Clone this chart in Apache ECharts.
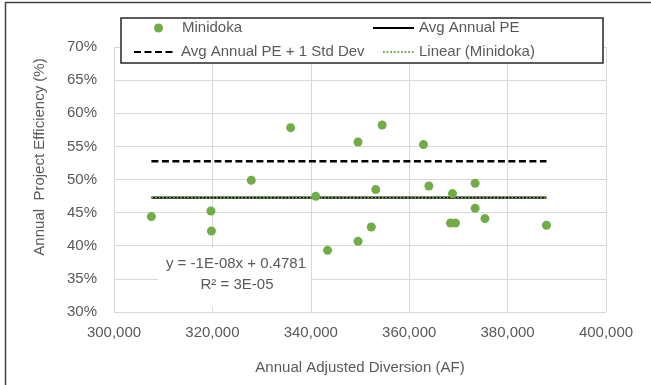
<!DOCTYPE html>
<html>
<head>
<meta charset="utf-8">
<script src="https://cdn.jsdelivr.net/npm/echarts@6/dist/echarts.min.js"></script>
<style>
  html, body { margin: 0; padding: 0; background: #ffffff; }
  #chart { width: 651px; height: 385px; }
</style>
</head>
<body>
<div id="chart"></div>
<script>
// ---- Data ----
const diversionAF = [307600, 319700, 319800, 327900, 335900, 341000, 343400, 349600, 354500, 353200, 352300, 349600, 362900, 364000, 368800, 368400, 369400, 373400, 373400, 375400, 387900];
const efficiency  = [0.4440, 0.4525, 0.4223, 0.4988, 0.5783, 0.4746, 0.3931, 0.5566, 0.5823, 0.4848, 0.4283, 0.4067, 0.5527, 0.4902, 0.4787, 0.4343, 0.4343, 0.4943, 0.4565, 0.4410, 0.4309];

const refLineX   = [307600, 387900];
const avgPE      = [0.4727, 0.4727];
const avgPlusStd = [0.5275, 0.5275];
const trendY     = [0.4729, 0.4726];

const xTicks = { min: 300000, max: 400000, interval: 20000 };
const yTicks = { min: 0.30, max: 0.70, interval: 0.05 };

const equationText = 'y = -1E-08x + 0.4781';
const r2Text = 'R² = 3E-05';

const seriesNames = ['Minidoka', 'Avg Annual PE', 'Avg Annual PE + 1 Std Dev', 'Linear (Minidoka)'];

// ---- Build ----
const FONT = 'Liberation Sans, Arial, sans-serif';
const TXT = '#595959';
const GREEN = '#70ad47';

const pairs = (xs, ys) => xs.map((x, i) => [x, ys[i]]);

const chart = echarts.init(document.getElementById('chart'), null, { renderer: 'canvas' });

const legendBase = {
  orient: 'horizontal',
  padding: 0,
  itemHeight: 14,
  selectedMode: false,
  textStyle: { color: TXT, fontFamily: FONT, fontSize: 15, lineHeight: 16 }
};
const hiddenSymbol = { opacity: 0, color: 'rgba(0,0,0,0)', borderWidth: 0 };

const option = {
  backgroundColor: '#ffffff',
  animation: false,
  grid: { left: 114, right: 45, top: 47, bottom: 73, containLabel: false },
  xAxis: {
    type: 'value',
    min: xTicks.min, max: xTicks.max, interval: xTicks.interval,
    axisLine: { show: false },
    axisTick: { show: false },
    splitLine: { show: true, lineStyle: { color: '#d9d9d9', width: 1 } },
    axisLabel: {
      color: TXT, fontFamily: FONT, fontSize: 15, margin: 13,
      showMinLabel: true, showMaxLabel: true,
      formatter: v => Math.round(v).toLocaleString('en-US')
    },
    name: 'Annual Adjusted Diversion (AF)',
    nameLocation: 'middle',
    nameGap: 48,
    nameTextStyle: { color: TXT, fontFamily: FONT, fontSize: 15 }
  },
  yAxis: {
    type: 'value',
    min: yTicks.min, max: yTicks.max, interval: yTicks.interval,
    axisLine: { show: false },
    axisTick: { show: false },
    splitLine: { show: true, lineStyle: { color: '#d9d9d9', width: 1 } },
    axisLabel: {
      color: TXT, fontFamily: FONT, fontSize: 15, margin: 17,
      showMinLabel: true, showMaxLabel: true,
      formatter: v => Math.round(v * 100) + '%'
    }
  },
  legend: [
    Object.assign({}, legendBase, {
      data: [{ name: seriesNames[0], icon: 'circle', itemStyle: { color: GREEN, opacity: 1 } }],
      left: 154, top: 20, itemWidth: 37, itemHeight: 9
    }),
    Object.assign({}, legendBase, {
      data: [{ name: seriesNames[1], itemStyle: hiddenSymbol }],
      itemStyle: hiddenSymbol,
      left: 372, top: 20, itemWidth: 41
    }),
    Object.assign({}, legendBase, {
      data: [{ name: seriesNames[2], itemStyle: hiddenSymbol }],
      itemStyle: hiddenSymbol,
      left: 133, top: 44, itemWidth: 42
    }),
    Object.assign({}, legendBase, {
      data: [{ name: seriesNames[3], itemStyle: hiddenSymbol }],
      itemStyle: hiddenSymbol,
      left: 382, top: 44, itemWidth: 31
    })
  ],
  graphic: [
    // outer chart border (top and left visible)
    { type: 'line', z: 10, shape: { x1: 5, y1: 2.5, x2: 651, y2: 2.5 }, style: { stroke: '#404040', lineWidth: 1.5 } },
    { type: 'line', z: 10, shape: { x1: 5.5, y1: 2, x2: 5.5, y2: 385 }, style: { stroke: '#404040', lineWidth: 1.5 } },
    // legend box
    { type: 'rect', z: 3, shape: { x: 121, y: 18, width: 482, height: 45 }, style: { fill: '#ffffff', stroke: '#262626', lineWidth: 1.5 } },
    // trendline equation label
    { type: 'rect', z: 3, shape: { x: 158, y: 248, width: 153, height: 59 }, style: { fill: '#ffffff', stroke: null } },
    { type: 'text', z: 4, x: 236, y: 263.5, style: { text: equationText, fill: TXT, font: '15px ' + FONT, align: 'center', verticalAlign: 'middle' } },
    { type: 'text', z: 4, x: 237, y: 285, style: { text: r2Text, fill: TXT, font: '15px ' + FONT, align: 'center', verticalAlign: 'middle' } },
    // y axis title
    { type: 'text', z: 4, x: 40, y: 157, rotation: Math.PI / 2, style: { text: 'Annual  Project Efficiency (%)', fill: TXT, font: '15px ' + FONT, align: 'center', verticalAlign: 'middle' } }
  ],
  series: [
    {
      name: seriesNames[0], type: 'scatter', z: 5,
      symbol: 'circle', symbolSize: 9,
      itemStyle: { color: GREEN, opacity: 1 },
      data: pairs(diversionAF, efficiency)
    },
    {
      name: seriesNames[1], type: 'line', z: 4, symbol: 'none',
      lineStyle: { color: '#000000', width: 2.4, type: 'solid' },
      itemStyle: { color: '#000000' },
      data: pairs(refLineX, avgPE)
    },
    {
      name: seriesNames[2], type: 'line', z: 4, symbol: 'none',
      lineStyle: { color: '#000000', width: 2.4, type: [7, 3.5] },
      itemStyle: { color: '#000000' },
      data: pairs(refLineX, avgPlusStd)
    },
    {
      name: seriesNames[3], type: 'line', z: 4, symbol: 'none',
      lineStyle: { color: GREEN, width: 1.8, type: [1.8, 1.8] },
      itemStyle: { color: GREEN },
      data: pairs(refLineX, trendY)
    }
  ]
};

chart.setOption(option);
</script>
</body>
</html>
